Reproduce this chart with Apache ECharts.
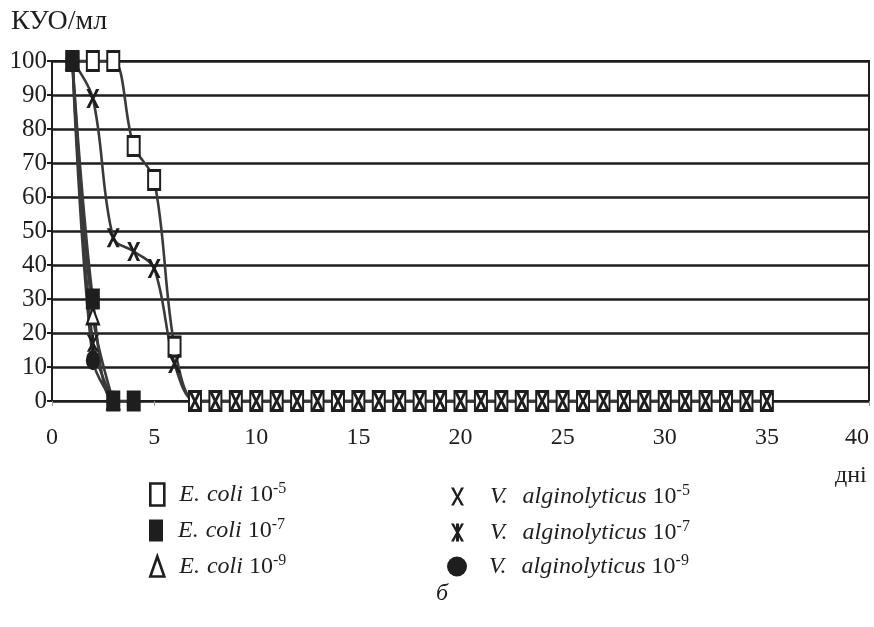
<!DOCTYPE html>
<html>
<head>
<meta charset="utf-8">
<script src="https://cdn.jsdelivr.net/npm/echarts@6/dist/echarts.min.js"></script>
<style>
html,body{margin:0;padding:0;background:#fff;}
#chart{width:874px;height:627px;}
</style>
</head>
<body>
<div id="chart"></div>
<script>
// ---- data ----
const xTicks = [0, 5, 10, 15, 20, 25, 30, 35, 40];
const yTicks = [0, 10, 20, 30, 40, 50, 60, 70, 80, 90, 100];

const daysLong = [1,2,3,4,5,6,7,8,9,10,11,12,13,14,15,16,17,18,19,20,21,22,23,24,25,26,27,28,29,30,31,32,33,34,35];
const ecoli5 = [100,100,100,75,65,16,0,0,0,0,0,0,0,0,0,0,0,0,0,0,0,0,0,0,0,0,0,0,0,0,0,0,0,0,0];
const valg5  = [100,89,48,44,39,11,0,0,0,0,0,0,0,0,0,0,0,0,0,0,0,0,0,0,0,0,0,0,0,0,0,0,0,0,0];

const daysE7 = [1,2,3,4];
const ecoli7 = [100,30,0,0];

const daysShort = [1,2,3];
const ecoli9 = [100,25,0];
const valg7  = [100,17,0];
const valg9  = [100,12,0];

const speciesE = 'E. coli';
const speciesV = 'V. alginolyticus';
const exps = ['-5', '-7', '-9'];

// ---- helpers ----
function pairs(xs, ys) { return xs.map((x, i) => [x, ys[i]]); }
const FONT = 'Liberation Serif';
const INK = '#1e1e1e';
const LINE = '#3a3a3a';

const X_PATH = 'path://M0,0 L26,0 L50,36 L74,0 L100,0 L63,50 L100,100 L74,100 L50,64 L26,100 L0,100 L37,50 Z';
const XBAR_PATH = 'path://M0,0 L24,0 L50,38 L76,0 L100,0 L62,50 L100,100 L76,100 L50,62 L24,100 L0,100 L38,50 Z M40,0 L60,0 L60,100 L40,100 Z';
const XLEG_PATH = 'path://M0,0 L22,0 L50,40 L78,0 L100,0 L61,52 L100,100 L78,100 L50,62 L22,100 L0,100 L39,52 Z';
const XBARLEG_PATH = 'path://M0,0 L22,0 L50,40 L78,0 L100,0 L61,50 L100,100 L78,100 L50,60 L22,100 L0,100 L39,50 Z M38,0 L62,0 L62,100 L38,100 Z';

const names = {
  e5: speciesE + ' 10' + exps[0],
  e7: speciesE + ' 10' + exps[1],
  e9: speciesE + ' 10' + exps[2],
  v5: speciesV + ' 10' + exps[0],
  v7: speciesV + ' 10' + exps[1],
  v9: speciesV + ' 10' + exps[2]
};

function baseSeries(name, data, symbol, size, itemStyle) {
  return {
    name: name,
    type: 'line',
    data: data,
    smooth: 0.35,
    clip: false,
    symbol: symbol,
    symbolSize: size,
    showAllSymbol: true,
    lineStyle: { color: LINE, width: 2.6 },
    itemStyle: itemStyle,
    emphasis: { disabled: true },
    animation: false
  };
}

const series = [
  baseSeries(names.e9, pairs(daysShort, ecoli9), 'triangle', [12, 16], { color: '#fff', borderColor: INK, borderWidth: 2.4 }),
  baseSeries(names.v9, pairs(daysShort, valg9), 'circle', [14, 20], { color: INK, borderWidth: 0 }),
  baseSeries(names.v7, pairs(daysShort, valg7), XBAR_PATH, [12, 17], { color: INK, borderWidth: 0 }),
  baseSeries(names.e5, pairs(daysLong, ecoli5), 'rect', [12, 19], { color: '#fff', borderColor: INK, borderWidth: 2.5 }),
  baseSeries(names.v5, pairs(daysLong, valg5), X_PATH, [13, 19], { color: INK, borderWidth: 0 }),
  baseSeries(names.e7, pairs(daysE7, ecoli7), 'rect', [14, 21], { color: INK, borderWidth: 0 })
];

// ---- legend ----
const LFS = 24;
const legendRich = {
  g: { width: 10 },
  g2: { width: 21 },
  g3: { width: 17 },
  spE: { width: 1 },
  spV: { width: 9 },
  i: { fontFamily: FONT, fontStyle: 'italic', fontSize: LFS, color: INK, lineHeight: 27 },
  n: { fontFamily: FONT, fontSize: LFS, color: INK, lineHeight: 27 },
  s: { fontFamily: FONT, fontSize: 16, color: INK, verticalAlign: 'top', lineHeight: 15 }
};
function legendFmt(gap, spacer) {
  return function (name) {
    const parts = name.split(' 10');
    const sp = parts[0].split(' ');
    const species = '{i|' + sp[0] + '}{' + spacer + '|}{i| ' + sp.slice(1).join(' ') + '}';
    return '{' + gap + '|}' + species + '{n| 10}{s|' + parts[1] + '}';
  };
}
function legendItem(name, left, centerY, w, h, icon, itemStyle, gap, spacer) {
  return {
    left: left, top: centerY - h / 2, padding: 0,
    itemWidth: w, itemHeight: h,
    selectedMode: false,
    symbolKeepAspect: false,
    data: [{ name: name, icon: icon, itemStyle: itemStyle }],
    formatter: legendFmt(gap, spacer),
    textStyle: { rich: legendRich }
  };
}
const rowY = [492, 528, 563];
const legends = [
  legendItem(names.e5, 149, rowY[0], 14, 22, 'rect', { color: '#fff', borderColor: INK, borderWidth: 2.6 }, 'g', 'spE'),
  legendItem(names.e7, 149, rowY[1], 14, 22, 'rect', { color: INK, borderWidth: 0 }, 'g', 'spE'),
  legendItem(names.e9, 149, rowY[2], 14, 20, 'triangle', { color: '#fff', borderColor: INK, borderWidth: 2.6 }, 'g', 'spE'),
  legendItem(names.v5, 451, rowY[0], 13, 18, XLEG_PATH, { color: INK, borderWidth: 0 }, 'g2', 'spV'),
  legendItem(names.v7, 451, rowY[1], 13, 18, XBARLEG_PATH, { color: INK, borderWidth: 0 }, 'g2', 'spV'),
  legendItem(names.v9, 447, rowY[2], 20, 20, 'circle', { color: INK, borderWidth: 0 }, 'g3', 'spV')
];

const option = {
  backgroundColor: '#fff',
  animation: false,
  title: [
    { text: 'КУО/мл', left: 6, top: 3, textStyle: { fontFamily: FONT, fontSize: 28, fontWeight: 'normal', color: INK } },
    { text: 'дні', left: 830, top: 459, textStyle: { fontFamily: FONT, fontSize: 24, fontWeight: 'normal', color: INK } },
    { text: 'б', left: 431, top: 577, textStyle: { fontFamily: FONT, fontSize: 24, fontStyle: 'italic', fontWeight: 'normal', color: INK } }
  ],
  legend: legends,
  grid: {
    left: 52, top: 61, right: 5, bottom: 226,
    show: true, borderColor: INK, borderWidth: 2, backgroundColor: 'transparent'
  },
  xAxis: {
    type: 'value', min: xTicks[0], max: xTicks[xTicks.length - 1], interval: 5,
    axisLine: { show: true, lineStyle: { color: INK, width: 2 } },
    axisTick: { show: true, length: 5, lineStyle: { color: '#999', width: 1 } },
    splitLine: { show: false },
    axisLabel: {
      margin: 25, fontFamily: FONT, fontSize: 24, color: INK, alignMaxLabel: 'right',
      formatter: v => xTicks.includes(v) ? String(v) : ''
    }
  },
  yAxis: {
    type: 'value', min: yTicks[0], max: yTicks[yTicks.length - 1], interval: 10,
    axisLine: { show: true, lineStyle: { color: INK, width: 2 } },
    axisTick: { show: true, length: 5, lineStyle: { color: INK, width: 2 } },
    splitLine: { show: true, lineStyle: { color: INK, width: 2.5 } },
    axisLabel: {
      margin: 5, fontFamily: FONT, fontSize: 25, color: INK,
      formatter: v => yTicks.includes(v) ? String(v) : ''
    }
  },
  series: series
};

const chart = echarts.init(document.getElementById('chart'), null, { renderer: 'canvas' });
chart.setOption(option);
</script>
</body>
</html>
